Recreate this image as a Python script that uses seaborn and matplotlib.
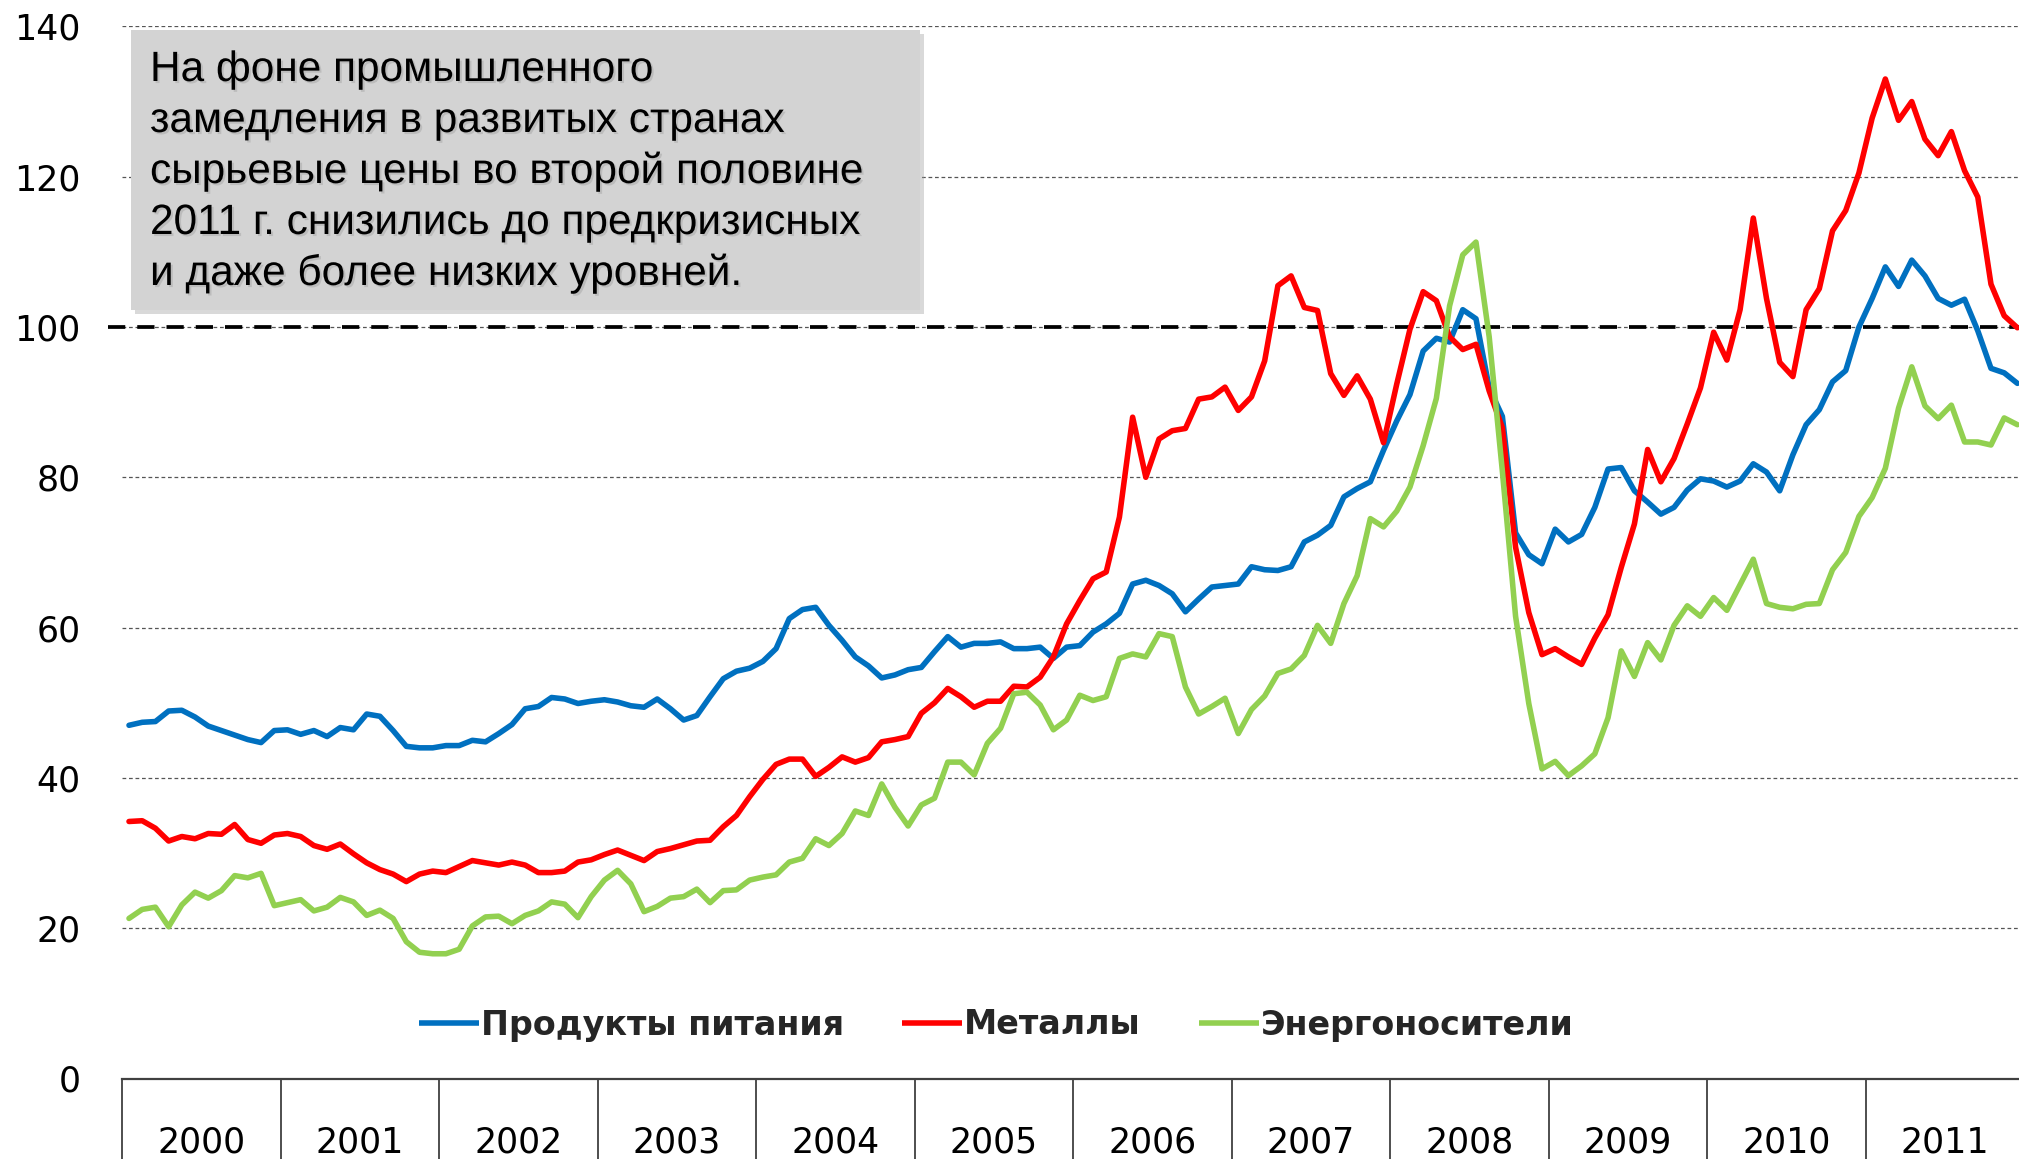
import numpy as np
import pandas as pd
import matplotlib
matplotlib.use("Agg")
import matplotlib.pyplot as plt
import matplotlib.patheffects as pe
from matplotlib.patches import Rectangle
from matplotlib.lines import Line2D
import seaborn as sns

# ---------------- data (monthly index values, Jan 2000 - Dec 2011) ----------------
years = [str(y) for y in range(2000, 2012)]

food = [
    47.0, 47.4, 47.5, 48.9, 49.0, 48.1, 46.9, 46.3, 45.7, 45.1, 44.7, 46.3,
    46.4, 45.8, 46.3, 45.5, 46.7, 46.4, 48.5, 48.2, 46.3, 44.2, 44.0, 44.0,
    44.3, 44.3, 45.0, 44.8, 45.9, 47.1, 49.2, 49.5, 50.7, 50.5, 49.9, 50.2,
    50.4, 50.1, 49.6, 49.4, 50.5, 49.2, 47.7, 48.3, 50.8, 53.2, 54.2, 54.6,
    55.5, 57.2, 61.2, 62.4, 62.7, 60.3, 58.3, 56.1, 54.9, 53.3, 53.7, 54.4,
    54.7, 56.8, 58.8, 57.4, 57.9, 57.9, 58.1, 57.2, 57.2, 57.4, 55.9, 57.4,
    57.6, 59.4, 60.5, 61.9, 65.8, 66.3, 65.6, 64.5, 62.1, 63.8, 65.4, 65.6,
    65.8, 68.1, 67.7, 67.6, 68.1, 71.4, 72.3, 73.6, 77.4, 78.5, 79.4, 83.6,
    87.5, 91.0, 96.8, 98.5, 98.0, 102.3, 101.1, 91.9, 88.1, 72.6, 69.7, 68.5,
    73.1, 71.4, 72.4, 76.0, 81.1, 81.3, 78.2, 76.7, 75.1, 76.0, 78.3, 79.8,
    79.5, 78.7, 79.5, 81.8, 80.7, 78.2, 83.0, 87.0, 89.0, 92.7, 94.2, 100.0,
    103.8, 108.0, 105.4, 108.9, 106.8, 103.8, 102.9, 103.7, 99.5, 94.5, 93.9, 92.5,
]

metals = [
    34.2, 34.3, 33.3, 31.6, 32.2, 31.9, 32.6, 32.5, 33.8, 31.8, 31.3, 32.4,
    32.6, 32.2, 31.0, 30.5, 31.2, 29.9, 28.7, 27.8, 27.2, 26.2, 27.2, 27.6,
    27.4, 28.2, 29.0, 28.7, 28.4, 28.8, 28.4, 27.4, 27.4, 27.6, 28.8, 29.1,
    29.8, 30.4, 29.7, 29.0, 30.2, 30.6, 31.1, 31.6, 31.7, 33.5, 35.0, 37.5,
    39.8, 41.8, 42.5, 42.5, 40.2, 41.4, 42.8, 42.1, 42.7, 44.8, 45.1, 45.5,
    48.6, 50.0, 51.9, 50.8, 49.4, 50.2, 50.2, 52.2, 52.1, 53.4, 56.1, 60.5,
    63.6, 66.5, 67.4, 74.7, 88.0, 80.0, 85.1, 86.2, 86.5, 90.4, 90.7, 92.0,
    88.9, 90.7, 95.5, 105.5, 106.8, 102.6, 102.2, 93.8, 90.9, 93.5, 90.4, 84.6,
    92.4, 99.7, 104.7, 103.5, 98.7, 97.0, 97.7, 91.5, 86.6, 70.7, 62.0, 56.4,
    57.2, 56.1, 55.1, 58.6, 61.7, 68.0, 73.8, 83.7, 79.4, 82.5, 87.1, 91.9,
    99.3, 95.6, 102.3, 114.5, 103.8, 95.3, 93.4, 102.3, 105.1, 112.8, 115.5, 120.5,
    127.8, 133.0, 127.5, 130.0, 125.0, 122.8, 126.0, 120.8, 117.3, 105.7, 101.5, 99.9,
]

energy = [
    21.3, 22.5, 22.8, 20.2, 23.1, 24.8, 24.0, 25.0, 27.0, 26.7, 27.3, 23.0,
    23.4, 23.8, 22.3, 22.8, 24.1, 23.5, 21.7, 22.4, 21.3, 18.2, 16.8, 16.6,
    16.6, 17.2, 20.3, 21.5, 21.6, 20.6, 21.7, 22.3, 23.5, 23.2, 21.4, 24.2,
    26.4, 27.7, 25.9, 22.2, 22.9, 24.0, 24.2, 25.2, 23.4, 25.0, 25.1, 26.4,
    26.8, 27.1, 28.8, 29.3, 31.9, 31.0, 32.6, 35.6, 35.0, 39.2, 36.1, 33.6,
    36.4, 37.3, 42.1, 42.1, 40.4, 44.6, 46.6, 51.2, 51.4, 49.7, 46.4, 47.7,
    51.0, 50.3, 50.8, 55.9, 56.5, 56.1, 59.2, 58.8, 52.1, 48.5, 49.5, 50.6,
    45.9, 49.1, 50.9, 53.9, 54.5, 56.3, 60.3, 57.9, 63.2, 66.9, 74.5, 73.4,
    75.5, 78.7, 84.2, 90.5, 102.8, 109.6, 111.3, 98.7, 80.8, 61.5, 49.9, 41.2,
    42.2, 40.3, 41.6, 43.2, 48.0, 56.9, 53.5, 58.0, 55.7, 60.3, 62.9, 61.5,
    64.0, 62.3, 65.7, 69.1, 63.2, 62.7, 62.5, 63.1, 63.2, 67.7, 70.0, 74.8,
    77.3, 81.2, 89.2, 94.7, 89.5, 87.8, 89.6, 84.7, 84.7, 84.3, 87.9, 87.0,
]

series_names = ["Продукты питания", "Металлы", "Энергоносители"]
series_colors = ["#0070C0", "#FF0000", "#92D050"]
y_ticks = [0, 20, 40, 60, 80, 100, 120, 140]
reference_level = 100
note_lines = [
    "На фоне промышленного",
    "замедления в развитых странах",
    "сырьевые цены во второй половине",
    "2011 г. снизились до предкризисных",
    "и даже более низких уровней.",
]

# ---------------- figure ----------------
sns.set_theme(style="white")
plt.rcParams["font.family"] = ["DejaVu Sans"]

W, H = 2019, 1159
fig = plt.figure(figsize=(W / 100, H / 100), dpi=100)
fig.patch.set_facecolor("white")

ax_left, ax_right = 122.4, 2024.0
ax_bottom_px, ax_top_px = 1078.5, 26.4
ax = fig.add_axes([ax_left / W, (H - ax_bottom_px) / H,
                   (ax_right - ax_left) / W, (ax_bottom_px - ax_top_px) / H])
ax.set_facecolor("white")

n_months = len(food)
df = pd.DataFrame({
    "month": np.tile(np.arange(n_months), 3),
    "value": food + metals + energy,
    "series": np.repeat(series_names, n_months),
})

sns.lineplot(data=df, x="month", y="value", hue="series", hue_order=series_names,
             palette=series_colors, linewidth=4.0, legend=False, ax=ax,
             zorder=3)
for ln in ax.lines:
    ln.set_solid_joinstyle("round")
    ln.set_solid_capstyle("round")
    ln.set_antialiased(True)

# axes limits / ticks
ax.set_xlim(-0.5, n_months - 0.5)
ax.set_ylim(y_ticks[0], y_ticks[-1])
ax.set_yticks(y_ticks)
ax.set_yticklabels([str(v) for v in y_ticks], fontsize=25, color="black")
ax.tick_params(axis="y", which="both", left=False, length=0, pad=30)

year_edges = np.arange(len(years) + 1) * 12 - 0.5
year_centers = np.arange(len(years)) * 12 + 5.5
ax.set_xticks(year_edges)
ax.set_xticklabels([""] * len(year_edges))
ax.set_xticks(year_centers, minor=True)
ax.set_xticklabels(years, minor=True, fontsize=25, color="black")
ax.tick_params(axis="x", which="major", bottom=True, length=70, width=1.3,
               color="#404040", direction="out")
ax.tick_params(axis="x", which="minor", bottom=True, length=0, pad=34)
ax.set_xlabel("")
ax.set_ylabel("")

# grid
for v in y_ticks[1:]:
    ax.axhline(v, color="#555555", lw=0.9, ls=(0, (3, 2.2)), zorder=1)
ax.axhline(reference_level, xmin=-14 / (ax_right - ax_left), xmax=1,
           color="black", lw=2.7, dashes=(4.6, 3.2), zorder=2, clip_on=False)

for s in ["top", "right", "left"]:
    ax.spines[s].set_visible(False)
ax.spines["bottom"].set_color("#404040")
ax.spines["bottom"].set_linewidth(1.6)
ax.spines["bottom"].set_zorder(4)

# legend
handles = [Line2D([], [], color=c, lw=4.0, solid_capstyle="butt") for c in series_colors]
fig.legend(handles, series_names, loc="center", bbox_to_anchor=(996 / W, (H - 1025) / H),
           ncol=3, frameon=False, handlelength=1.8, handletextpad=0.05,
           columnspacing=1.75, prop={"family": "DejaVu Sans", "weight": "bold", "size": 24})

# annotation box
box = Rectangle((131 / W, (H - 310) / H), (920 - 131) / W, (310 - 30) / H,
                transform=fig.transFigure, facecolor="#D3D3D3", edgecolor="none",
                zorder=5)
box.set_path_effects([pe.SimplePatchShadow(offset=(3, -3), shadow_rgbFace="#a0a0a0",
                                           alpha=0.4), pe.Normal()])
fig.patches.append(box)

baselines = [81, 132, 183, 234, 285]
for line, b in zip(note_lines, baselines):
    fig.text(150 / W, (H - b) / H, line, fontsize=30.5, family="Liberation Sans",
             color="black", va="baseline", ha="left", zorder=6,
             path_effects=[pe.SimplePatchShadow(offset=(1.5, -1.5),
                                                shadow_rgbFace="#888888", alpha=0.3),
                           pe.Normal()])

fig.savefig("out.png", dpi=100, facecolor="white")
